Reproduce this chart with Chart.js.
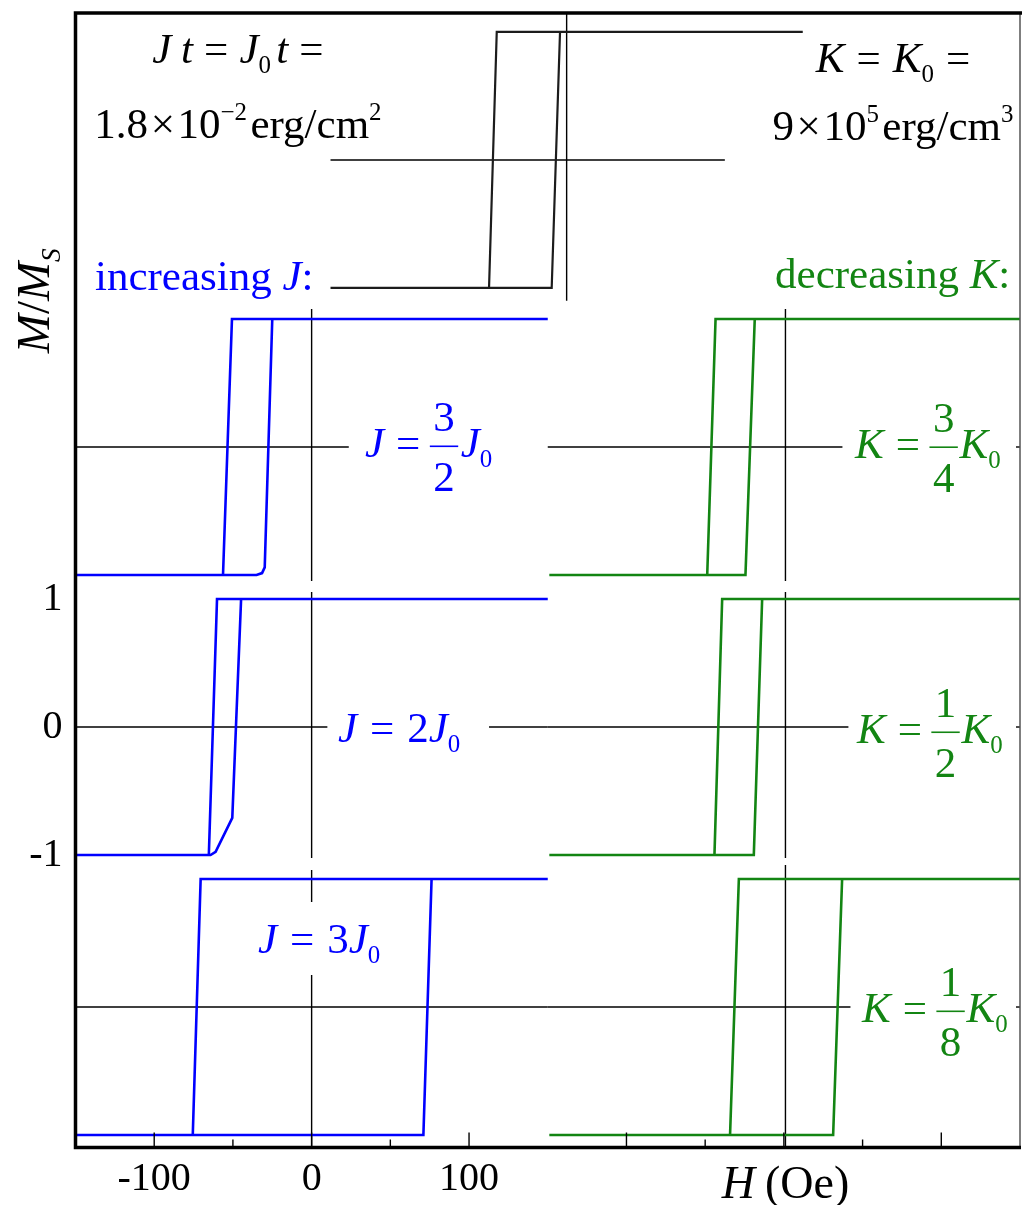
<!DOCTYPE html>
<html>
<head>
<meta charset="utf-8">
<title>Hysteresis loops vs J and K</title>
<script src="https://cdn.jsdelivr.net/npm/chart.js@4.4.1/dist/chart.umd.min.js"></script>
<style>
  html, body { margin: 0; padding: 0; background: #fff; }
  #wrap { width: 1022px; height: 1205px; }
</style>
</head>
<body>
<div id="wrap"><canvas id="loops" width="1022" height="1205"></canvas></div>
<script>
// Loops: H in Oe, M/Ms. Descending branch first, then the ascending one.
var refLoopH = [150, -44.4, -49.3, -150, -150, -9.5, -4.2, 150];
var refLoopM = [1, 1, -1, -1, -1, -1, 1, 1];

var j32LoopH = [150, -50.6, -56.3, -150, -150, -35, -31.5, -29.8, -25, 150];
var j32LoopM = [1, 1, -1, -1, -1, -1, -0.985, -0.94, 1, 1];

var j2LoopH = [150, -60.1, -65.3, -150, -150, -64.2, -61, -50.4, -44.8, 150];
var j2LoopM = [1, 1, -1, -1, -1, -1, -0.975, -0.71, 1, 1];

var j3LoopH = [150, -70.5, -75.5, -150, -150, 71, 76.2, 150];
var j3LoopM = [1, 1, -1, -1, -1, -1, 1, 1];

var k34LoopH = [150, -44.4, -49.7, -150, -150, -25.4, -19.5, 150];
var k34LoopM = [1, 1, -1, -1, -1, -1, 1, 1];

var k12LoopH = [150, -40.2, -45.1, -150, -150, -20.1, -14.8, 150];
var k12LoopM = [1, 1, -1, -1, -1, -1, 1, 1];

var k18LoopH = [150, -29.6, -35.2, -150, -150, 30.3, 36, 150];
var k18LoopM = [1, 1, -1, -1, -1, -1, 1, 1];

// shared frame axes
var xTickMajor = [-100, 0, 100, 200, 300, 400];
var xTickMinor = [-50, 50, 250, 350];
var xTickLabelled = [-100, 0, 100];
var yTickValues = [-1, 0, 1];
var yTickLabels = ['-1', '0', '1'];

var BLUE = '#0000ff';
var GREEN = '#138513';
var SERIF = '"Liberation Serif", "Times New Roman", "DejaVu Serif", serif';
var LABEL_SIZE = 43;

// each small plot is shifted onto the shared axes (dh in Oe, dm in M/Ms);
// hLines / vLines are the zero axes of that plot, in its own units
var panels = [
  { hs: refLoopH, ms: refLoopM, dh: 162, dm: 4.43, color: '#1c1c1c', width: 2.2,
    hLines: [[-150, 100.5]], vLines: [[-1.1, 1.2]] },
  { hs: j32LoopH, ms: j32LoopM, dh: 0, dm: 2.1875, color: BLUE, width: 2.6,
    hLines: [[-150, 23.6]], vLines: [[-1.047, 1.078]] },
  { hs: k34LoopH, ms: k34LoopM, dh: 301, dm: 2.1875, color: GREEN, width: 2.6,
    hLines: [[-151, 36.2]], vLines: [[-1.047, 1.078]] },
  { hs: j2LoopH, ms: j2LoopM, dh: 0, dm: 0, color: BLUE, width: 2.6,
    hLines: [[-150, 10], [112.7, 150]], vLines: [[-1.023, 1.055]] },
  { hs: k12LoopH, ms: k12LoopM, dh: 301, dm: 0, color: GREEN, width: 2.6,
    hLines: [[-151, 40]], vLines: [[-1.023, 1.055]] },
  { hs: j3LoopH, ms: j3LoopM, dh: 0, dm: -2.1875, color: BLUE, width: 2.6,
    hLines: [[-150, 150]], vLines: [[-1.12, 0.25], [0.82, 1.07]] },
  { hs: k18LoopH, ms: k18LoopM, dh: 301, dm: -2.1875, color: GREEN, width: 2.6,
    hLines: [[-151, 41.3]], vLines: [[-1.12, 1.11]] }
];

// rich text pieces: {t, it} plain run, {sub}/{sup} small run, {gap} space in em, {frac}
var notes = [
  { h: -46.8, m: 5.1875, align: 'center', color: '#000', parts: [
    { t: 'J', it: true }, { gap: 0.22 }, { t: 't', it: true }, { gap: 0.26 }, { t: '=' }, { gap: 0.26 },
    { t: 'J', it: true }, { t: '0', sub: true }, { gap: 0.12 }, { t: 't', it: true }, { gap: 0.26 }, { t: '=' }] },
  { h: -46.8, m: 4.602, align: 'center', color: '#000', parts: [
    { t: '1.8' }, { gap: 0.06 }, { t: '\u00d7' }, { gap: 0.06 }, { t: '10' }, { t: '\u22122', sup: true },
    { gap: 0.08 }, { t: 'erg/cm' }, { t: '2', sup: true }] },
  { h: 369.3, m: 5.117, align: 'center', color: '#000', parts: [
    { t: 'K', it: true }, { gap: 0.28 }, { t: '=' }, { gap: 0.28 }, { t: 'K', it: true }, { t: '0', sub: true },
    { gap: 0.28 }, { t: '=' }] },
  { h: 369.3, m: 4.586, align: 'center', color: '#000', parts: [
    { t: '9' }, { gap: 0.06 }, { t: '\u00d7' }, { gap: 0.06 }, { t: '10' }, { t: '5', sup: true },
    { gap: 0.08 }, { t: 'erg/cm' }, { t: '3', sup: true }] },
  { h: -137.6, m: 3.414, align: 'left', color: BLUE, parts: [
    { t: 'increasing ' }, { t: 'J', it: true }, { t: ':' }] },
  { h: 294.4, m: 3.43, align: 'left', color: GREEN, parts: [
    { t: 'decreasing ' }, { t: 'K', it: true }, { t: ':' }] },
  { h: 33.9, m: 2.109, align: 'left', color: BLUE, parts: [
    { t: 'J', it: true }, { gap: 0.28 }, { t: '=' }, { gap: 0.22 }, { frac: ['3', '2'] }, { gap: 0.06 },
    { t: 'J', it: true }, { t: '0', sub: true }] },
  { h: 345.2, m: 2.102, align: 'left', color: GREEN, parts: [
    { t: 'K', it: true }, { gap: 0.28 }, { t: '=' }, { gap: 0.22 }, { frac: ['3', '4'] }, { gap: 0.04 },
    { t: 'K', it: true }, { t: '0', sub: true }] },
  { h: 16.8, m: -0.117, align: 'left', color: BLUE, parts: [
    { t: 'J', it: true }, { gap: 0.3 }, { t: '=' }, { gap: 0.3 }, { t: '2' }, { t: 'J', it: true }, { t: '0', sub: true }] },
  { h: 346.4, m: -0.125, align: 'left', color: GREEN, parts: [
    { t: 'K', it: true }, { gap: 0.28 }, { t: '=' }, { gap: 0.22 }, { frac: ['1', '2'] }, { gap: 0.04 },
    { t: 'K', it: true }, { t: '0', sub: true }] },
  { h: -34, m: -1.766, align: 'left', color: BLUE, parts: [
    { t: 'J', it: true }, { gap: 0.3 }, { t: '=' }, { gap: 0.3 }, { t: '3' }, { t: 'J', it: true }, { t: '0', sub: true }] },
  { h: 349.6, m: -2.305, align: 'left', color: GREEN, parts: [
    { t: 'K', it: true }, { gap: 0.28 }, { t: '=' }, { gap: 0.22 }, { frac: ['1', '8'] }, { gap: 0.04 },
    { t: 'K', it: true }, { t: '0', sub: true }] }
];

var yTitle = [{ t: 'M', it: true }, { t: '/' }, { t: 'M', it: true }, { t: 'S', it: true, sub: true }];
var xTitle = [{ t: 'H', it: true }, { gap: 0.22 }, { t: '(Oe)' }];

function fontFor(size, italic) {
  return (italic ? 'italic ' : '') + size + 'px ' + SERIF;
}

function partWidth(ctx, p, size) {
  if (p.gap != null) return p.gap * size;
  if (p.frac) {
    ctx.font = fontFor(size, false);
    return Math.max(ctx.measureText(p.frac[0]).width, ctx.measureText(p.frac[1]).width) + 0.16 * size;
  }
  ctx.font = fontFor((p.sub || p.sup) ? size * 0.58 : size, p.it);
  return ctx.measureText(p.t).width;
}

function drawMath(ctx, parts, x, y, size, align, color) {
  var w = 0;
  parts.forEach(function (p) { w += partWidth(ctx, p, size); });
  var cx = align === 'center' ? x - w / 2 : (align === 'right' ? x - w : x);
  ctx.save();
  ctx.fillStyle = color;
  ctx.strokeStyle = color;
  ctx.textBaseline = 'alphabetic';
  parts.forEach(function (p) {
    var pw = partWidth(ctx, p, size);
    if (p.frac) {
      var axis = y - 0.25 * size;
      ctx.font = fontFor(size, false);
      ctx.textAlign = 'center';
      ctx.fillText(p.frac[0], cx + pw / 2, axis - 0.36 * size);
      ctx.fillText(p.frac[1], cx + pw / 2, axis + 1.05 * size);
      ctx.lineWidth = 1.6;
      ctx.beginPath();
      ctx.moveTo(cx, axis);
      ctx.lineTo(cx + pw, axis);
      ctx.stroke();
    } else if (p.t != null) {
      var dy = p.sub ? 0.24 * size : (p.sup ? -0.42 * size : 0);
      ctx.font = fontFor((p.sub || p.sup) ? size * 0.58 : size, p.it);
      ctx.textAlign = 'left';
      ctx.fillText(p.t, cx, y + dy);
    }
    cx += pw;
  });
  ctx.restore();
}

function shifted(hs, ms, dh, dm) {
  return hs.map(function (h, i) { return { x: h + dh, y: ms[i] + dm }; });
}

var datasets = [];
panels.forEach(function (p) {
  datasets.push({
    data: shifted(p.hs, p.ms, p.dh, p.dm),
    borderColor: p.color,
    borderWidth: p.width,
    order: 0
  });
});
panels.forEach(function (p) {
  p.hLines.forEach(function (seg) {
    datasets.push({ data: [{ x: seg[0] + p.dh, y: p.dm }, { x: seg[1] + p.dh, y: p.dm }],
      borderColor: '#000', borderWidth: 1.4, order: 1 });
  });
  p.vLines.forEach(function (seg) {
    datasets.push({ data: [{ x: p.dh, y: seg[0] + p.dm }, { x: p.dh, y: seg[1] + p.dm }],
      borderColor: '#000', borderWidth: 1.4, order: 1 });
  });
});
datasets.forEach(function (d) {
  d.showLine = true;
  d.pointRadius = 0;
  d.tension = 0;
  d.fill = false;
});

// frame, inward ticks and the typeset labels
var framePlugin = {
  id: 'frame',
  afterDatasetsDraw: function (chart) {
    var ctx = chart.ctx, a = chart.chartArea;
    var xs = chart.scales.x, ys = chart.scales.y;
    ctx.save();
    ctx.strokeStyle = '#000';
    ctx.lineWidth = 1.4;
    xTickMajor.forEach(function (v) {
      var px = xs.getPixelForValue(v);
      ctx.beginPath(); ctx.moveTo(px, a.bottom); ctx.lineTo(px, a.bottom - 15); ctx.stroke();
    });
    xTickMinor.forEach(function (v) {
      var px = xs.getPixelForValue(v);
      ctx.beginPath(); ctx.moveTo(px, a.bottom); ctx.lineTo(px, a.bottom - 8); ctx.stroke();
    });
    [2.1875, 0, -2.1875].forEach(function (m) {
      var py = ys.getPixelForValue(m);
      ctx.beginPath(); ctx.moveTo(a.right, py); ctx.lineTo(a.right - 4, py); ctx.stroke();
    });
    ctx.lineWidth = 1.5;
    ctx.strokeStyle = '#555';
    ctx.beginPath(); ctx.moveTo(a.right, a.top); ctx.lineTo(a.right, a.bottom); ctx.stroke();
    ctx.strokeStyle = '#000';
    ctx.lineWidth = 3.5;
    ctx.beginPath();
    ctx.moveTo(chart.width, a.top);
    ctx.lineTo(a.left, a.top);
    ctx.lineTo(a.left, a.bottom);
    ctx.lineTo(a.right + 1, a.bottom);
    ctx.stroke();
    ctx.restore();

    notes.forEach(function (n) {
      drawMath(ctx, n.parts, xs.getPixelForValue(n.h), ys.getPixelForValue(n.m), LABEL_SIZE, n.align, n.color);
    });

    ctx.save();
    ctx.translate(a.left - 27, ys.getPixelForValue(3.33));
    ctx.rotate(-Math.PI / 2);
    drawMath(ctx, yTitle, 0, 0, 47, 'center', '#000');
    ctx.restore();

    drawMath(ctx, xTitle, xs.getPixelForValue(301), a.bottom + 50, 46, 'center', '#000');
  }
};

new Chart(document.getElementById('loops'), {
  type: 'scatter',
  data: { datasets: datasets },
  options: {
    responsive: false,
    devicePixelRatio: 1,
    animation: false,
    layout: { padding: { top: 13, right: 2, left: 0, bottom: 0 } },
    plugins: { legend: { display: false }, tooltip: { enabled: false } },
    scales: {
      x: {
        type: 'linear', min: -150, max: 450,
        grid: { display: false, drawTicks: false },
        border: { display: false },
        afterBuildTicks: function (s) { s.ticks = xTickMajor.concat(xTickMinor).map(function (v) { return { value: v }; }); },
        afterFit: function (s) { s.height = 57.5; s.paddingLeft = 0; s.paddingRight = 0; },
        ticks: {
          autoSkip: false, maxRotation: 0, padding: 8, color: '#000',
          font: { family: SERIF, size: 40 },
          callback: function (v) { return xTickLabelled.indexOf(v) >= 0 ? String(v) : ''; }
        }
      },
      y: {
        type: 'linear', min: -3.285, max: 5.578,
        grid: { display: false, drawTicks: false },
        border: { display: false },
        afterBuildTicks: function (s) { s.ticks = yTickValues.map(function (v) { return { value: v }; }); },
        afterFit: function (s) { s.width = 75.5; s.paddingTop = 0; s.paddingBottom = 0; },
        ticks: {
          autoSkip: false, padding: 13, color: '#000',
          font: { family: SERIF, size: 40 },
          callback: function (v) { return yTickLabels[yTickValues.indexOf(v)]; }
        }
      }
    }
  },
  plugins: [framePlugin]
});
</script>
</body>
</html>
